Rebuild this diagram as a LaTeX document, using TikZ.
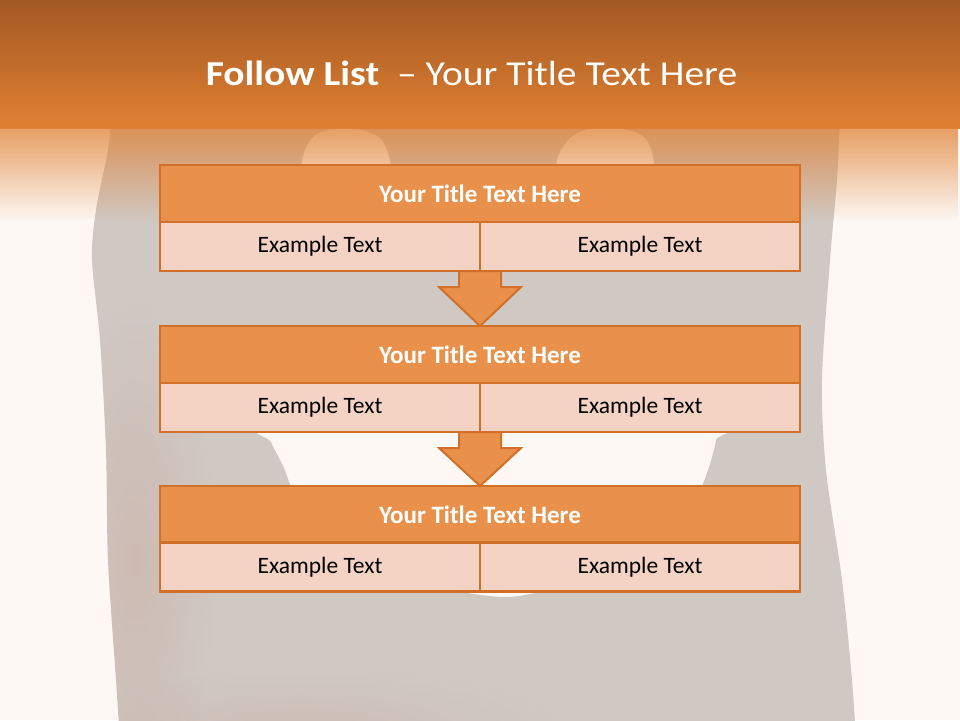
\documentclass[tikz,border=0pt]{standalone}
\usepackage{fontspec}
\setmainfont{Carlito}
\newfontfamily\headfont[FakeStretch=1.13]{Carlito}
\usetikzlibrary{calc,fadings}
\definecolor{bgcream}{RGB}{253,248,244}
\definecolor{toast}{RGB}{208,200,195}
\definecolor{toastred}{RGB}{190,120,95}
\definecolor{hdtop}{RGB}{163,89,36}
\definecolor{hdbot}{RGB}{224,128,50}
\definecolor{titlefill}{RGB}{233,145,74}
\definecolor{subfill}{RGB}{245,211,196}
\definecolor{edgecol}{RGB}{210,112,42}
\tikzfading[name=hdfade, top color=transparent!0, bottom color=transparent!100]
\tikzfading[name=blobfade, inner color=transparent!0, outer color=transparent!100]
\begin{document}
\begin{tikzpicture}[x=1pt,y=-1pt,
  titlecell/.style={draw=edgecol, line width=2.5pt, fill=titlefill, minimum width=640pt, minimum height=57pt, inner sep=0pt, outer sep=0pt, text=white, font=\bfseries\fontsize{25}{30}\selectfont},
  subcell/.style={draw=edgecol, line width=2.5pt, fill=subfill, minimum width=320pt, minimum height=49pt, inner sep=0pt, outer sep=0pt, text=black, font=\fontsize{23.5}{28}\selectfont},
  flowarrow/.style={draw=edgecol, line width=2pt, fill=titlefill, line join=miter},
  headline/.style={text=white, inner sep=0pt, anchor=base, font=\headfont\fontsize{35}{42}\selectfont}]
\useasboundingbox (0,0) rectangle (960,720);
% background
\fill[bgcream] (0,0) rectangle (960,720);
% toast silhouette with holes
\fill[toast, even odd rule]
  plot[smooth] coordinates {(112,112) (108,150) (96,210) (92,260) (100,340) (106,450) (108,560) (116,680) (120,740)}
  -- plot[smooth] coordinates {(856,740) (852,680) (842,580) (826,470) (822,380) (830,260) (837,180) (840,112)} -- cycle
  plot[smooth cycle] coordinates {(300,210) (302,160) (315,135) (345,127) (380,138) (392,170) (390,210) (345,220)}
  plot[smooth cycle] coordinates {(556,210) (557,160) (575,134) (610,126) (645,138) (655,170) (652,210) (605,220)}
  plot[smooth cycle] coordinates {(268,428) (271,442) (284,468) (296,495) (340,550) (420,583) (505,597) (565,583) (640,545) (693,500) (708,470) (716,440) (714,428) (480,420)};
\begin{scope}
  \clip plot[smooth] coordinates {(112,112) (108,150) (96,210) (92,260) (100,340) (106,450) (108,560) (116,680) (120,740)}
  -- plot[smooth] coordinates {(856,740) (852,680) (842,580) (826,470) (822,380) (830,260) (837,180) (840,112)} -- cycle;
  \fill[toastred, opacity=0.16, path fading=blobfade] (135,560) ellipse [x radius=80, y radius=260];
  \fill[toastred, opacity=0.12, path fading=blobfade] (300,730) ellipse [x radius=260, y radius=60];
\end{scope}
% header
\shade[top color=hdtop, bottom color=hdbot] (0,0) rectangle (960,128);
\begin{scope}
  \clip (0,127) rectangle (960,240);
  \fill[hdbot, path fading=hdfade] (0,97) rectangle (960,221);
\end{scope}
\node[headline] (head) at (471.5,85.5) {{\bfseries Follow List}\ \ – Your Title Text Here};
% boxes
\node[titlecell] (t1) at (480,193.5) {Your Title Text Here};
\node[subcell] (l1) at (320,246.5) {Example Text};
\node[subcell] (r1) at (640,246.5) {Example Text};
\node[titlecell] (t2) at (480,354.5) {Your Title Text Here};
\node[subcell] (l2) at (320,407.5) {Example Text};
\node[subcell] (r2) at (640,407.5) {Example Text};
\node[titlecell] (t3) at (480,514.5) {Your Title Text Here};
\node[subcell] (l3) at (320,567) {Example Text};
\node[subcell] (r3) at (640,567) {Example Text};
% arrows
\draw[flowarrow] ($(l1.south east)+(-21,0)$) -- ++(0,16) -- ++(-20,0) -- (t2.north) -- ($(l1.south east)+(41,16)$) -- ++(-20,0) -- ++(0,-16) -- cycle;
\draw[flowarrow] ($(l2.south east)+(-21,0)$) -- ++(0,16) -- ++(-20,0) -- (t3.north) -- ($(l2.south east)+(41,16)$) -- ++(-20,0) -- ++(0,-16) -- cycle;
\end{tikzpicture}
\end{document}
